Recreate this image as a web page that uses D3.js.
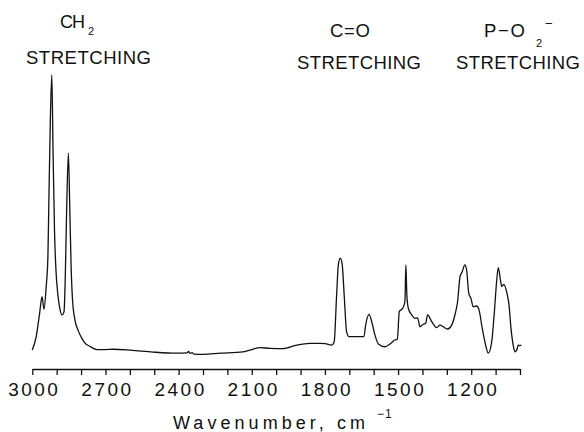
<!DOCTYPE html>
<html>
<head>
<meta charset="utf-8">
<script src="https://cdn.jsdelivr.net/npm/d3@7/dist/d3.min.js"></script>
<style>
  html, body { margin: 0; padding: 0; background: #fff; }
  svg { display: block; }
  text { fill: #111; font-family: "Liberation Sans", Arial, sans-serif; }
</style>
</head>
<body>
<svg id="chart" width="584" height="432"></svg>
<script>
// IR spectrum of a phospholipid film: wavenumber (cm^-1) and absorbance
const wavenumber = [
  3000, 2984, 2970, 2960, 2952, 2943, 2936, 2932, 2926, 2920,
  2915, 2909, 2903, 2895, 2886, 2878, 2870, 2865, 2860, 2852,
  2847, 2841, 2835, 2825, 2813, 2800, 2784, 2763, 2735, 2702,
  2669, 2599, 2505, 2408, 2366, 2359, 2353, 2345, 2337, 2300,
  2230, 2136, 2099, 2066, 2025, 1972, 1915, 1861, 1820, 1799,
  1772, 1762, 1752, 1745, 1737, 1729, 1721, 1711, 1701, 1640,
  1633, 1619, 1608, 1595, 1581, 1554, 1533, 1513, 1503, 1495,
  1481, 1472, 1468, 1464, 1458, 1444, 1431, 1420, 1410, 1397,
  1387, 1379, 1362, 1342, 1328, 1315, 1297, 1280, 1267, 1256,
  1246, 1237, 1226, 1219, 1210, 1201, 1192, 1178, 1168, 1155,
  1141, 1130, 1116, 1105, 1096, 1089, 1079, 1075, 1066, 1055,
  1045, 1037, 1028, 1021, 1011, 1007, 1000, 994
];
const absorbance = [
  0.021, 0.069, 0.152, 0.211, 0.166, 0.247, 0.353, 0.555, 0.840, 1.000,
  0.733, 0.448, 0.306, 0.217, 0.164, 0.146, 0.157, 0.270, 0.484, 0.722,
  0.555, 0.324, 0.199, 0.128, 0.093, 0.068, 0.046, 0.034, 0.023, 0.023,
  0.024, 0.021, 0.014, 0.010, 0.011, 0.016, 0.009, 0.012, 0.007, 0.006,
  0.010, 0.015, 0.023, 0.030, 0.027, 0.026, 0.039, 0.045, 0.045, 0.044,
  0.039, 0.051, 0.217, 0.324, 0.348, 0.324, 0.217, 0.086, 0.069, 0.069,
  0.110, 0.148, 0.122, 0.075, 0.043, 0.033, 0.043, 0.057, 0.059, 0.158,
  0.170, 0.193, 0.324, 0.217, 0.170, 0.146, 0.134, 0.136, 0.104, 0.113,
  0.116, 0.146, 0.122, 0.101, 0.110, 0.104, 0.096, 0.110, 0.146, 0.193,
  0.282, 0.300, 0.324, 0.306, 0.223, 0.205, 0.175, 0.178, 0.164, 0.099,
  0.039, 0.010, 0.051, 0.158, 0.264, 0.314, 0.264, 0.247, 0.255, 0.229,
  0.181, 0.099, 0.039, 0.015, 0.027, 0.039, 0.037, 0.039
];

// Axis ticks every 100 cm^-1, labelled every 300
const tickValues = d3.range(3000, 999, -100);
const tickLabels = [3000, 2700, 2400, 2100, 1800, 1500, 1200];

const svg = d3.select("#chart");

const x = d3.scaleLinear().domain([3000, 1000]).range([32.3, 520]);
const y = d3.scaleLinear().domain([0, 1]).range([356, 75]);

const points = wavenumber.map((w, i) => ({ w, a: absorbance[i] }));

// Spectrum trace
svg.append("path")
  .datum(points)
  .attr("fill", "none")
  .attr("stroke", "#111")
  .attr("stroke-width", 1.3)
  .attr("stroke-linejoin", "round")
  .attr("d", d3.line().x(d => x(d.w)).y(d => y(d.a)).curve(d3.curveMonotoneX));

// Wavenumber axis
const axis = d3.axisBottom(x)
  .tickValues(tickValues)
  .tickSizeInner(6)
  .tickSizeOuter(0)
  .tickPadding(8)
  .tickFormat(d => tickLabels.includes(d) ? String(d) : "");

const gAxis = svg.append("g")
  .attr("transform", "translate(0,369)")
  .call(axis);
gAxis.select(".domain").attr("stroke", "#111").attr("stroke-width", 1.5);
gAxis.selectAll(".tick line").attr("stroke", "#111").attr("stroke-width", 1.3);
gAxis.selectAll(".tick text")
  .attr("fill", "#111")
  .style("font-family", "'Liberation Sans', Arial, sans-serif")
  .style("font-size", "19px")
  .style("letter-spacing", "2.5px")
  .attr("dx", "1.5");

// Axis title with superscript unit exponent
svg.append("text")
  .attr("x", 173)
  .attr("y", 429)
  .attr("textLength", 192)
  .attr("lengthAdjust", "spacing")
  .style("font-size", "18px")
  .text("Wavenumber, cm");
svg.append("text")
  .attr("x", 377)
  .attr("y", 418)
  .style("font-size", "12px")
  .style("letter-spacing", "1px")
  .text("\u22121");

// Band labels above the spectrum
function label(str, x0, baseline, size, width) {
  const t = svg.append("text")
    .attr("x", x0)
    .attr("y", baseline)
    .style("font-size", size + "px")
    .text(str);
  if (width) t.attr("textLength", width).attr("lengthAdjust", "spacing");
  return t;
}

// CH2 stretching
label("CH", 60, 28, 18, 25);
label("2", 88, 35, 11);
label("STRETCHING", 26, 64, 18.5, 125);

// C=O stretching
label("C=O", 330, 37, 18.5, 40);
label("STRETCHING", 297, 69, 18.5, 124);

// P-O2- stretching
label("P\u2212O", 484, 37, 18.5, 41);
label("2", 536, 47, 11);
label("\u2212", 545, 28, 13);
label("STRETCHING", 456, 69, 18.5, 124);
</script>
</body>
</html>
